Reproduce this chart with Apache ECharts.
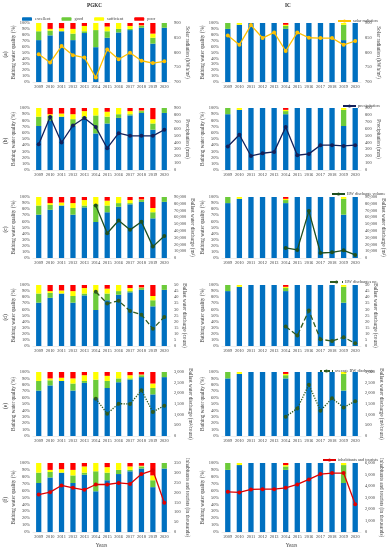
<!DOCTYPE html>
<html><head><meta charset="utf-8">
<script src="https://cdn.jsdelivr.net/npm/echarts@6/dist/echarts.min.js"></script>
<style>html,body{margin:0;padding:0;background:#fff}#c{width:387px;height:550px}</style>
</head><body><div id="c"></div>
<script>
const years = ['2009','2010','2011','2012','2013','2014','2015','2016','2017','2018','2019','2020'];
// Bathing water quality (%) - PGKC
const pgkcExcellent = [71,79,86,71,83,59,75,84,88,92,65,92];
const pgkcGood = [15,8,0,11,3,29,11,6,2,3,10,8];
const pgkcSufficient = [14,3,5,8,9,12,8,10,5,1,7,0];
const pgkcPoor = [0,10,9,10,5,0,6,0,5,4,18,0];
// Bathing water quality (%) - IC
const icExcellent = [90,97,100,100,100,90,100,100,100,100,71,100];
const icGood = [10,0,0,0,0,5,0,0,0,0,26,0];
const icSufficient = [0,3,0,0,0,2,0,0,0,0,3,0];
const icPoor = [0,0,0,0,0,3,0,0,0,0,0,0];
// secondary series
const solarPGKC = [794,766,822,791,783,715,810,777,799,772,764,770];
const solarIC = [858,826,893,849,868,805,868,850,849,849,826,839];
const precipPGKC = [375,769,399,647,754,623,316,535,496,496,496,584];
const precipIC = [340,511,204,243,263,623,214,234,360,360,350,360];
const bwVolPGKC = [null,null,null,null,null,77600,36600,55400,41500,53400,16800,32600];
const bwVolIC = [null,null,null,null,null,14800,11900,69200,7400,8400,11400,4500];
const bwNoPGKC = [null,null,null,null,null,44.5,34.8,37,28.7,25.7,14.1,23.8];
const bwNoIC = [null,null,null,null,null,16,8.6,29,5.5,4.1,7.2,2.2];
const avgBwPGKC = [null,null,null,null,null,1750,1047,1516,1500,2141,1125,1422];
const avgBwIC = [null,null,null,null,null,908,1292,2400,1185,1769,1338,1631];
const inhabPGKC = [190,202,236,224,214,241,241,249,244,294,313,148];
const inhabIC = [3495,3437,3699,3728,3728,3845,4136,4573,5039,5126,5126,2417];

const rowLabels = ['(a)','(b)','(c)','(d)','(e)','(f)'];
const lineNames = ['solar radiation','precipitation','BW discharge volume','BW discharges no.','average BW discharge','inhabitants and tourists'];
const rightNames = ['Solar radiation (kWh/m²)','Precipitation (mm)','Ballast water discharge (m³)','Ballast water discharge (count)','Ballast water discharge (m³/count)','Inhabitants and tourists (in thousands)'];
const lineData = [[solarPGKC,solarIC],[precipPGKC,precipIC],[bwVolPGKC,bwVolIC],[bwNoPGKC,bwNoIC],[avgBwPGKC,avgBwIC],[inhabPGKC,inhabIC]];
const barData = [[pgkcExcellent,pgkcGood,pgkcSufficient,pgkcPoor],[icExcellent,icGood,icSufficient,icPoor]];
const barNames = ['excellent','good','sufficient','poor'];

// layout/style
const FONT = 'Liberation Serif';
const TXT = '#404040';
const FS = 4.4;     // tick labels
const NFS = 5.2;    // axis names
const LFS = 4.3;    // legends
const barColors = ['#0070C0','#6CCB3A','#FFFF00','#FF0000'];
const lineColors = ['#FFC000','#14215A','#1F4F1F','#2F5A1F','#2F5A1F','#E00000'];
const lineTypes = ['solid','solid','solid','dashed','dotted','solid'];
const rowTop = [23,108,197,285,372,463];
const rowH = [59,62,61,61,64,69];
const colLeft = [33,222];
const colW = [137,139];
const rAxis = [
  [{min:700,max:900,interval:50},{min:700,max:900,interval:50}],
  [{min:0,max:900,interval:100},{min:0,max:900,interval:100}],
  [{min:0,max:90000,interval:10000},{min:0,max:90000,interval:10000}],
  [{min:0,max:50,interval:5},{min:0,max:50,interval:5}],
  [{min:0,max:3000,interval:500},{min:0,max:3000,interval:500}],
  [{min:0,max:350,interval:50},{min:0,max:6000,interval:1000}]
];
const rGap = [[11,10],[11,10],[18,18],[9,9],[13,13],[12,13]];
const legendPos = [[332,14],[337,99],[326,187],[324,275],[314,364],[317,453]];

const grid=[],xAxis=[],yAxis=[],series=[],legend=[],graphic=[];
legend.push({left:17,top:12,itemWidth:10,itemHeight:3.5,itemGap:11,data:barNames,
  textStyle:{fontFamily:FONT,fontSize:LFS,color:TXT,padding:[0,0,0,-2]}});
graphic.push({type:'text',left:87,top:3,style:{text:'PGKC',font:'bold 5.2px "Liberation Serif"',fill:'#222'}});
graphic.push({type:'text',left:285,top:3,style:{text:'IC',font:'bold 5.2px "Liberation Serif"',fill:'#222'}});
function fmt(v){return String(v).replace(/\B(?=(\d{3})+(?!\d))/g,',');}
let gi=0;
for(let r=0;r<6;r++){
  graphic.push({type:'text',x:3,y:rowTop[r]+rowH[r]/2+5,rotation:Math.PI/2,
    style:{text:rowLabels[r],font:'5.5px "Liberation Serif"',fill:'#222'}});
  for(let c=0;c<2;c++){
    grid.push({left:colLeft[c],top:rowTop[r],width:colW[c],height:rowH[r]});
    xAxis.push({type:'category',gridIndex:gi,data:years,
      axisTick:{show:false},axisLine:{show:true,lineStyle:{color:'#d9d9d9',width:0.5}},
      axisLabel:{fontFamily:FONT,fontSize:FS,color:TXT,margin:3,interval:0},
      name:r===5?'Years':'',nameLocation:'middle',nameGap:11,
      nameTextStyle:{fontFamily:FONT,fontSize:NFS,color:TXT}});
    yAxis.push({type:'value',gridIndex:gi,min:0,max:100,interval:10,
      axisLabel:{formatter:'{value}%',fontFamily:FONT,fontSize:FS,color:TXT,margin:3},
      axisLine:{show:false},axisTick:{show:false},splitLine:{show:false},
      name:'Bathing water quality (%)',nameLocation:'middle',nameGap:15,
      nameTextStyle:{fontFamily:FONT,fontSize:NFS,color:TXT}});
    const ra=rAxis[r][c];
    yAxis.push({type:'value',gridIndex:gi,position:'right',min:ra.min,max:ra.max,interval:ra.interval,
      axisLabel:{formatter:r===2?fmt:null,fontFamily:FONT,fontSize:FS,color:TXT,margin:4},
      axisLine:{show:false},axisTick:{show:false},splitLine:{show:false},
      name:rightNames[r],nameLocation:'middle',nameGap:rGap[r][c],nameRotate:-90,
      nameTextStyle:{fontFamily:FONT,fontSize:NFS,color:TXT}});
    for(let b=0;b<4;b++){
      series.push({type:'bar',name:barNames[b],xAxisIndex:gi,yAxisIndex:gi*2,stack:'q'+gi,
        barWidth:'46%',data:barData[c][b],itemStyle:{color:barColors[b]},silent:true});
    }
    series.push({type:'line',name:lineNames[r],xAxisIndex:gi,yAxisIndex:gi*2+1,data:lineData[r][c],
      symbol:'circle',symbolSize:4,connectNulls:false,
      lineStyle:{color:lineColors[r],width:1.3,type:lineTypes[r]},itemStyle:{color:lineColors[r]},z:5});
    gi++;
  }
  legend.push({left:legendPos[r][0],top:legendPos[r][1],itemWidth:13,itemHeight:4,data:[lineNames[r]],
    textStyle:{fontFamily:FONT,fontSize:LFS,color:TXT,padding:[0,0,0,-3]}});
}
const chart=echarts.init(document.getElementById('c'),null,{renderer:'canvas'});
chart.setOption({animation:false,backgroundColor:'#fff',grid,xAxis,yAxis,series,legend,graphic});
</script></body></html>
